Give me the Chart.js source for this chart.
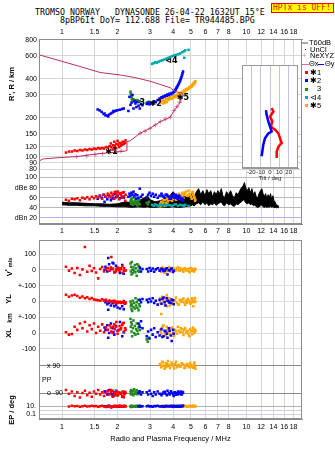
<!DOCTYPE html>
<html>
<head>
<meta charset="utf-8">
<script src="https://cdn.jsdelivr.net/npm/chart.js@4.4.1/dist/chart.umd.min.js"></script>
<style>
  body { margin: 0; background: #fff; }
  #page { position: relative; width: 335px; height: 451px; overflow: hidden; background: #fff;
          font-family: "Liberation Sans", Arial, sans-serif; color: #000; }
  canvas { position: absolute; }
  .txt { position: absolute; white-space: pre; line-height: 1; }
  .mono { font-family: "DejaVu Sans Mono", monospace; font-size: 8.3px; }
  .rot { transform: translate(-50%, -50%) rotate(-90deg); font-weight: bold; font-size: 7.5px; }
  .leg { font-size: 7.5px; line-height: 8px; }
  .sw { position: absolute; }
</style>
</head>
<body>
<div id="page">
  <div class="txt mono" style="left:35px;top:8px">TROMSO NORWAY   DYNASONDE 26-04-22 1632UT 15°E</div>
  <div class="txt mono" style="left:60px;top:16px">8pBP6It DoY= 112.688 File= TR944485.BPG</div>
  <div class="txt mono" style="left:271px;top:3px;width:63px;height:10px;box-sizing:border-box;border:1px solid #f00;background:#ff0;color:#f00;font-size:8px;line-height:8px;padding-left:1px;overflow:hidden">HPTx is OFF!</div>

  <canvas id="cTop" width="335" height="240" style="left:0;top:0"></canvas>
  <canvas id="cTilt" width="65" height="122" style="left:236px;top:60px"></canvas>
  <canvas id="cLow" width="335" height="223" style="left:0;top:228px"></canvas>

  <div class="txt rot" style="left:12px;top:84px">R', R / km</div>
  <div class="txt rot" style="left:9px;top:267px">V<sup style="font-size:5px">*</sup> <span style="font-size:5.5px">m/s</span></div>
  <div class="txt rot" style="left:9px;top:299px">YL</div>
  <div class="txt rot" style="left:10px;top:318px;font-size:6.5px">km</div>
  <div class="txt rot" style="left:9px;top:333px">XL</div>
  <div class="txt rot" style="left:12px;top:410px">EP / deg</div>
  <div class="txt" style="left:42px;top:376px;font-size:7px">PP</div>

  <!-- leyenda -->
  <div class="sw" style="left:302px;top:42px;width:6px;height:2px;background:#aaa"></div>
  <div class="txt leg" style="left:309px;top:39px">T60dB</div>
  <div class="sw" style="left:305px;top:49px;width:1px;height:1px;background:#000"></div>
  <div class="txt leg" style="left:310px;top:45.5px">UnCl</div>
  <div class="txt leg" style="left:302px;top:52px;color:#e0709a">+</div>
  <div class="txt leg" style="left:310px;top:52px">NeXYZ</div>
  <div class="sw" style="left:302px;top:64px;width:7px;height:1px;background:#e0709a"></div>
  <div class="txt leg" style="left:309px;top:60px">Θx</div>
  <div class="sw" style="left:318px;top:64px;width:6px;height:1px;background:#0000ff"></div>
  <div class="txt leg" style="left:325px;top:60px">Θy</div>
  <div class="sw" style="left:305px;top:71px;width:3px;height:3px;background:#ff0000"></div>
  <div class="txt leg" style="left:310px;top:68.5px">✱1</div>
  <div class="sw" style="left:305px;top:79px;width:3px;height:3px;background:#0000ff"></div>
  <div class="txt leg" style="left:310px;top:76.5px">✱2</div>
  <div class="sw" style="left:305px;top:87.5px;width:3px;height:3px;background:#228b22"></div>
  <div class="txt leg" style="left:317px;top:85px">3</div>
  <div class="sw" style="left:305px;top:96px;width:3px;height:3px;background:#00a8a8"></div>
  <div class="txt leg" style="left:310px;top:93.5px">⊲4</div>
  <div class="sw" style="left:305px;top:104px;width:3px;height:3px;background:#ffa500"></div>
  <div class="txt leg" style="left:310px;top:101.5px">✱5</div>
</div>

<script>
// --- colores ---
const RED = '#ff0000', BLUE = '#0000ff', GREEN = '#228b22', TEAL = '#00a8a8', ORANGE = '#ffa500';

// --- ejes ---
const FREQ_TICKS = [1, 1.5, 2, 3, 4, 5, 6, 7, 8, 10, 12, 14, 16, 18];
const FREQ_LABELS = ['1', '1.5', '2', '3', '4', '5', '6', '7', '8', '10', '12', '14', '16', '18'];
const R_TICKS = [80, 90, 100, 120, 150, 200, 300, 400, 600, 800];
const DB_TICKS = [20, 40, 60, 80, 100];
const DB_LABELS = ['dBn 20', '40', '60', 'dBe 80', '100'];
const TILT_TICKS = [-20, -10, 0, 10, 20];

// --- perfil NeXYZ (MHz, km) ---
const fProfile = [0.75, 0.79, 1.0, 1.2, 1.54, 1.98, 2.2, 2.25, 2.25, 2.34, 2.65, 3.0, 3.41, 3.86, 4.02, 4.28, 4.47, 4.55, 4.47, 4.11, 3.86, 3.4, 3.0, 2.5, 2.07, 1.61, 1.25, 1.0, 0.75];
const hProfile = [93, 96.5, 99, 100.5, 105.5, 109, 111, 112, 131, 133, 152, 166, 187, 202, 224, 252, 284, 298, 310, 319, 341, 362, 383, 408, 428, 447, 497, 545, 612];
const fMarks = [1.2, 1.36, 1.51, 1.66, 1.82, 1.97, 2.09, 2.65, 2.82, 3.0, 3.2, 3.41, 3.63, 3.86, 4.05, 4.2, 4.35];
const hMarks = [100.5, 102, 104, 106, 108, 110, 111, 152, 158, 166, 176, 187, 196, 202, 228, 244, 264];

// --- eco 1 (rojo) ---
const fRed = [1.05, 1.09, 1.13, 1.17, 1.21, 1.25, 1.29, 1.33, 1.37, 1.41, 1.45, 1.49, 1.53, 1.57, 1.61, 1.65, 1.69, 1.73, 1.77, 1.81, 1.85, 1.89, 1.93, 1.97, 2.01, 2.05, 2.09, 2.13, 2.17, 2.21, 1.84, 1.92, 2.0, 2.08, 2.16, 1.88, 1.96, 2.04, 2.12, 2.2];
const hRed = [108, 110, 110, 112, 111, 113, 112, 114, 113, 115, 114, 116, 115, 117, 116, 117, 116, 119, 118, 121, 119, 123, 122, 126, 124, 128, 127, 131, 130, 134, 127, 131, 133, 122, 126, 114, 117, 119, 124, 128];
const dbRed = [56, 54, 58, 57, 59, 55, 60, 58, 61, 57, 62, 59, 63, 60, 64, 58, 66, 62, 68, 64, 70, 66, 71, 67, 72, 68, 65, 70, 63, 66, 60, 58, 62, 69, 71, 65, 72, 57, 60, 54];
const vRed = [19, -5, 8, -20, 12, -33, 3, 144, -12, 25, -8, 10, -17, -54, 5, 18, -10, 4, 12, -6, 81, 8, -15, 3, 15, -8, 6, -20, 10, -4, 14, -12, 2, 9, -6, 4, -10, 6, 22, -2];
const ylRed = [42, 30, 38, 42, 35, 24, 31, 20, 26, 15, 22, 12, 10, 8, 4, 14, 4, 10, 0, 6, -4, 2, -6, 0, -8, -2, -10, -4, -12, -6, -2, 4, -10, -6, 2, 0, -12, -4, -8, -14];
const xlRed = [5, -10, -6, 40, 20, 60, 30, 70, 10, 50, 25, 60, 0, 40, 15, 55, 5, 35, 20, 50, 10, 40, 25, 70, 15, 45, 30, 60, 10, 20, 35, 55, -5, 25, 65, 0, 40, 20, 50, 30];
const ppRed = [-70, -95, -80, -110, -85, -120, -90, -75, -105, -88, -115, -80, -95, -70, -100, -85, -110, -90, -75, -100, -85, -115, -90, -78, -105, -88, -95, -80, -100, -92, -70, -108, -84, -96, -118, -76, -102, -88, -112, -82];
const epRed = [null, 8, 12, 9, 11, 7, 10, 13, 8, 10, 12, 9, 11, 7, 10, 13, 8, 6, 11, 9, 5, 10, 8, 12, 9, 11, 7, 10, 13, 8, 9, 11, 7, 12, 10, 8, 10, 12, 9, 11];

// --- eco 2 (azul) ---
const fBlue = [1.56, 1.6, 1.64, 1.68, 1.72, 1.76, 1.8, 1.84, 1.88, 1.92, 1.96, 2.0, 2.06, 2.12,
  1.7, 1.78, 1.9, 2.16,
  2.29, 2.32, 2.35, 2.38, 2.41, 2.44, 2.47, 2.5, 2.53, 2.56, 2.6, 2.64, 2.68, 2.73,
  2.88, 2.93, 2.98, 3.04, 3.1, 3.16, 3.22, 3.3, 3.38, 3.46, 3.55, 3.64, 3.73, 3.83, 3.93, 4.03, 4.1, 4.17, 4.23, 4.29, 4.35, 4.41, 4.47, 4.53,
  3.5, 3.6, 3.7, 3.8, 3.9, 4.0, 4.07, 4.14, 4.2, 4.26, 4.32, 4.38, 4.44, 4.5];
const hBlue = [232, 228, 222, 214, 209, 208, 212, 216, 220, 224, 227, 229, 231, 234,
  216, 205, 226, 236,
  226, 290, 252, 262, 300, 236, 270, 258, 242, 265, 248, 236, 255, 250,
  256, 262, 254, 262, 258, 268, 264, 274, 282, 288, 293, 298, 303, 307, 311, 318, 328, 340, 352, 366, 382, 402, 425, 455,
  286, 292, 296, 300, 304, 310, 318, 330, 344, 358, 372, 390, 412, 440];
const dbBlue = [58, 64, 60, 66, 62, 57, 63, 55, 60, 67, 61, 64, 59, 62,
  52, 66, 58, 60,
  62, 68, 64, 70, 66, 72, 63, 67, 58, 65, 60, 78, 62, 66,
  60, 66, 70, 64, 68, 62, 66, 60, 64, 68, 62, 66, 64, 58, 62, 66, 60, 64, 58, 62, 60, 56, 58, 54,
  64, 60, 66, 62, 58, 64, 60, 66, 62, 58, 64, 60, 56, 58];
const vBlue = [null, null, null, null, 20, -10, 35, 5, 45, -15, 25, 10, -20, 30,
  0, 75, 40, -25,
  null, null, null, null, null, null, null, null, null, null, null, 15, -10, 5,
  5, -10, 12, -5, 8, -12, 3, 10, -5, 6, -8, 4, -30, -3, 8, -6, null, null, null, null, null, null, null, null,
  4, -6, 10, -2, 6, -14, null, null, null, null, null, null, null, null];
const ylBlue = [null, null, null, null, -5, -18, -8, -25, -12, -30, -20, -38, -45, -30,
  5, -52, 0, -50,
  null, null, null, null, null, null, null, null, null, null, null, 10, -5, 15,
  10, -5, 15, 0, 20, -10, 5, -20, 10, -15, 25, -25, 5, -8, 12, -18, null, null, null, null, null, null, null, null,
  15, -5, 20, 0, -10, 8, null, null, null, null, null, null, null, null];
const xlBlue = [null, null, null, null, 20, 50, 0, 60, 30, -10, 45, 15, 70, -20,
  35, -30, 5, 5,
  null, null, null, null, null, null, null, null, null, null, 60, 40, 75, 30,
  -20, 10, -35, 20, -10, 30, -25, 5, -15, 25, -20, 10, -30, 15, -50, -5, null, null, null, null, null, null, null, null,
  -25, 15, -5, 30, -15, 20, null, null, null, null, null, null, null, null];
const ppBlue = [null, null, null, null, -80, -100, -70, -95, -110, -85, -75, -105, -90, -115,
  -80, -95, -100, -85,
  null, null, null, null, null, null, null, null, null, null, -90, -80, -100, -85,
  -85, -100, -75, -95, -110, -85, -100, -80, -95, -105, -85, -95, -75, -100, -90, -110, -85, -95, -100, -88, -92, -80, -97, -86,
  -95, -82, -104, -90, -78, -98, -86, -102, -92, -80, -96, -88, -100, -84];
const epBlue = [null, null, null, null, 10, 7, 12, 6, 9, 11, 8, 10, 7, 9,
  9, 11, 8, 10,
  null, null, null, null, null, null, null, null, null, null, 9, 12, 8, 10,
  9, 12, 8, 10, 7, 11, 9, 12, 8, 10, 7, 11, 9, 10, 8, 12, 9, 7, 10, 11, 8, 9, 10, 12,
  10, 8, 11, 9, 12, 7, 10, 9, 11, 8, 10, 12, 9, 11];

// --- eco 3 (verde) ---
const fGreen = [2.35, 2.36, 2.37, 2.38, 2.39, 2.4, 2.42, 2.44, 2.46, 2.48, 2.5, 2.52, 2.54, 2.56, 2.58, 2.6, 2.62, 2.64, 2.88, 2.92, 2.96];
const hGreen = [318, 308, 298, 290, 282, 274, 270, 278, 268, 272, 266, 270, 268, 274, 266, 269, 265, 268, 262, 258, 266];
const dbGreen = [52, 56, 48, 58, 50, 54, 46, 60, 52, 48, 55, 50, 58, 45, 53, 49, 56, 47, 50, 47, 52];
const vGreen = [40, -10, 20, -30, 50, 0, -20, 15, -5, 30, -15, 10, -38, 35, -8, 25, -12, 5, null, null, null];
const ylGreen = [0, -30, -15, -50, -20, -60, 5, -35, -10, -45, 20, -25, -5, -40, 10, -55, -18, -30, null, null, null];
const xlGreen = [90, 40, 70, 10, 55, -20, 30, 80, 0, 45, -10, 25, 60, 15, -5, 35, 50, 20, -40, -55, -30];
const ppGreen = [-80, -95, -70, -100, -85, -90, -75, -105, -65, -95, -80, -88, -72, -98, -84, -92, -78, -90, null, null, null];
const epGreen = [8, 11, 6, 9, 12, 7, 10, 8, 11, 9, 7, 10, 12, 8, 9, 11, 7, 10, null, null, null];

// --- eco 4 (turquesa) ---
const fTeal = [3.08, 3.14, 3.2, 3.27, 3.34, 3.42, 3.5, 3.58, 3.66, 3.75, 3.84, 3.94, 4.04, 4.14, 4.25, 4.36, 4.48, 4.58, 4.66, 4.6, 4.85];
const hTeal = [521, 528, 536, 532, 542, 550, 556, 562, 570, 578, 586, 596, 604, 610, 618, 626, 640, 652, 662, 580, 668];
const dbTeal = [46, 44, 47, 45, 44, 46, 45, 47, 44, 46, 45, 44, 46, 47, 44, 46, 45, 44, 46, 45, 44];

// --- eco 5 (naranja) ---
const fOrange = [3.4, 3.45, 3.5, 3.55, 3.6, 3.65, 3.7, 3.75, 3.8, 3.85, 3.92, 4.0, 4.1, 4.2, 4.3, 4.4, 4.5, 4.6, 4.7, 4.8, 4.9, 5.0, 5.08, 5.15, 5.22, 5.28,
  3.42, 3.52, 3.62, 3.72, 3.82, 3.95, 4.05, 4.15, 4.25, 4.35, 4.45, 4.55, 4.65, 4.75, 4.85, 4.95, 5.05, 5.12, 5.2, 5.26];
const hOrange = [268, 262, 275, 258, 270, 280, 265, 285, 275, 288, 283, 292, 296, 302, 306, 312, 318, 325, 332, 338, 345, 352, 360, 368, 376, 383,
  276, 270, 262, 278, 282, 280, 288, 290, 298, 302, 308, 314, 320, 328, 334, 340, 348, 356, 364, 372];
const dbOrange = [48, 52, 46, 55, 44, 50, 58, 53, 60, 56, 62, 58, 65, 60, 68, 63, 70, 66, 72, 64, 68, 62, 70, 66, 60, 56,
  44, 50, 56, 48, 58, 54, 62, 56, 64, 58, 66, 60, 70, 64, 74, 66, 58, 72, 62, 54];
const vOrange = [8, -12, 15, -5, -20, 10, -8, 5, 18, -10, 3, 12, -6, 8, -3, 10, 0, 6, -4, 3, -15, 12, -8, 5, -2, 4,
  -4, 10, -16, 2, 12, -8, 6, -2, 14, -6, 4, -12, 8, 0, -6, 10, -4, 2, -10, 6];
const ylOrange = [20, -80, 30, 0, -20, 25, 40, -5, 10, -25, 5, -15, 8, -8, -20, 0, 12, -6, 5, 15, -2, -10, 20, -30, 6, -4,
  -10, 15, 5, -30, 20, -12, 0, 25, -18, 10, -2, 18, -22, -8, 6, -15, 10, -5, 0, 22];
const xlOrange = [20, -5, 35, 50, 10, -15, 40, 5, 25, -10, 30, 0, 20, -5, 15, 30, 5, 20, 0, 15, -20, 10, -8, 25, 5, 12,
  10, 45, -10, 20, 0, 35, -20, 10, 40, 5, 25, -12, 30, 10, -5, 25, 15, 35, 0, 20];
const ppOrange = [100, 80, 115, 90, 70, 105, 85, 120, 95, 75, 110, 90, 100, 80, 95, 85, 100, 75, 90, 95, 80, 92, 85, 88, 110, 70,
  95, 112, 78, 102, 88, 98, 72, 115, 92, 84, 105, 96, 78, 100, 86, 108, 90, 76, 98, 84];
const epOrange = [null, 8, 11, 6, 10, 13, 7, 9, 12, 8, 10, 6, 11, 14, 9, 8, 10, 12, 9, 7, 11, 10, 8, 12, 9, 10,
  9, 12, 7, 10, 11, 8, 13, 9, 10, 7, 12, 8, 11, 9, 10, 13, 8, 11, 9, 12];

// --- ruido T60dB (banda negra) ---
const fNoise = [1.0, 1.1, 1.2, 1.35, 1.5, 1.65, 1.8, 2.0, 2.2, 2.4, 2.6, 2.8, 2.9, 3.0, 3.2, 3.4, 3.6, 3.8, 4.0, 4.2,
  4.4, 4.6, 4.8, 5.0, 5.1, 5.2, 5.35, 5.5, 5.65, 5.8, 5.95, 6.1, 6.25, 6.4, 6.55, 6.7, 6.85, 7.0, 7.15, 7.3,
  7.45, 7.6, 7.8, 8.0, 8.2, 8.4, 8.6, 8.8, 9.0, 9.2, 9.4, 9.6, 9.75, 9.9, 10.1, 10.3, 10.5, 10.7, 10.9, 11.1,
  11.3, 11.5, 11.7, 11.9, 12.1, 12.3, 12.5, 12.7, 12.9, 13.1, 13.3, 13.5, 13.7, 13.9, 14.1, 14.3, 14.5, 14.7, 15.0];
const dbNoiseHi = [51, 50, 50, 49, 48, 48, 47, 48, 52, 50, 54, 60, 64, 56, 52, 54, 58, 62, 72, 62,
  58, 64, 60, 66, 72, 62, 72, 78, 66, 74, 64, 76, 68, 74, 62, 72, 66, 74, 68, 78,
  64, 60, 72, 66, 74, 64, 60, 70, 66, 74, 80, 84, 90, 80, 74, 80, 70, 78, 66, 72,
  62, 60, 68, 74, 78, 68, 62, 68, 58, 66, 60, 68, 56, 64, 54, 52, 46, 45, 43];
const dbNoiseLo = [46, 45, 45, 44, 44, 43, 43, 42, 42, 41, 42, 41, 42, 41, 41, 42, 41, 41, 42, 41,
  41, 42, 43, 44, 46, 44, 48, 50, 46, 52, 46, 50, 44, 48, 46, 50, 45, 48, 50, 52,
  46, 44, 50, 46, 48, 44, 43, 48, 46, 50, 52, 56, 54, 50, 48, 50, 46, 48, 44, 46,
  42, 41, 42, 44, 46, 42, 41, 42, 41, 42, 41, 43, 41, 42, 41, 41, 40, 41, 40];

// --- inclinación (recuadro) ---
const tiltBlueDeg = [-4.3, -3.6, -1.8, 0, 1.8, -1.8, -5.4, -7.2, -8.2, -9];
const tiltBlueH = [230, 211, 188, 171, 157, 152, 139, 124, 110, 101];
const tiltRedDeg = [1.8, 3.6, 0, 2.5, 1, 5.4, 9, 10.8, 12.6, 9, 7.2, 7.2];
const tiltRedH = [238, 224, 205, 188, 171, 162, 152, 139, 128, 120, 110, 98];

// etiquetas de ecos: texto, MHz, km
const clusterTags = [['✱1', 1.85, 110], ['3', 2.72, 260], ['✱2', 3.22, 256], ['⊲4', 3.92, 545], ['✱5', 4.52, 287]];

// --- UTILIDADES ---
Chart.defaults.font.family = '"Liberation Sans", Arial, sans-serif';
Chart.defaults.font.size = 7;
Chart.defaults.color = '#000';

function pts(fs, vs) {
    const out = [];
    fs.forEach((f, i) => { if (vs[i] != null) out.push({ x: f, y: vs[i] }); });
    return out;
}

function dots(fs, vs, color, axis) {
    return { data: pts(fs, vs), yAxisID: axis, pointStyle: 'rect', pointRadius: 1.8,
             borderWidth: 0, backgroundColor: color, showLine: false };
}

function fixed(list) {
    return s => { s.ticks = list.map(v => ({ value: v })); };
}

function freqAxis(pos, extra) {
    return Object.assign({
        type: 'logarithmic', position: pos, min: 0.75, max: 20,
        afterBuildTicks: fixed(FREQ_TICKS),
        afterFit: s => { s.height = 12; },
        ticks: { autoSkip: false, maxRotation: 0, padding: 3, callback: v => FREQ_LABELS[FREQ_TICKS.indexOf(v)] },
        grid: { color: '#d6d6d6', drawTicks: false },
        border: { color: '#8c8c8c' }
    }, extra);
}

function leftAxis(stack, weight, extra) {
    return Object.assign({
        position: 'left', stack: stack, stackWeight: weight,
        afterFit: s => { s.width = 39; },
        grid: { color: '#dcdcdc', drawTicks: false },
        border: { color: '#8c8c8c' }
    }, extra);
}

const framePlugin = {
    id: 'frame',
    beforeDraw(chart, args, opts) {
        if (!opts.fill) return;
        const a = chart.chartArea;
        chart.ctx.save();
        chart.ctx.fillStyle = opts.fill;
        chart.ctx.fillRect(a.left, a.top, a.right - a.left, a.bottom - a.top);
        chart.ctx.restore();
    },
    afterDraw(chart, args, opts) {
        const { ctx, chartArea: a } = chart;
        ctx.save();
        ctx.strokeStyle = opts.color || '#8c8c8c';
        ctx.lineWidth = 1;
        ctx.strokeRect(Math.round(a.left) + 0.5, Math.round(a.top) + 0.5,
                       Math.round(a.right - a.left) - 1, Math.round(a.bottom - a.top) - 1);
        ctx.restore();
    }
};

const tagPlugin = {
    id: 'tags',
    afterDatasetsDraw(chart) {
        const { ctx } = chart;
        const sx = chart.scales.x, sy = chart.scales.yR;
        ctx.save();
        ctx.font = 'bold 8px "DejaVu Sans", sans-serif';
        ctx.fillStyle = '#000';
        ctx.textAlign = 'center';
        ctx.textBaseline = 'middle';
        clusterTags.forEach(([t, f, h]) => ctx.fillText(t, sx.getPixelForValue(f), sy.getPixelForValue(h)));
        ctx.restore();
    }
};

const baseOpts = {
    responsive: false, animation: false, devicePixelRatio: 1,
    events: []
};

// --- PANEL SUPERIOR: altura + amplitud ---
const topSets = [
    { data: pts(fProfile, hProfile), yAxisID: 'yR', showLine: true, pointRadius: 0, borderColor: '#b8305a', borderWidth: 1 },
    { data: pts(fMarks, hMarks), yAxisID: 'yR', pointStyle: 'cross', pointRadius: 2.2, borderColor: '#e0709a', borderWidth: 1, showLine: false },
    dots(fRed, hRed, RED, 'yR'),
    dots(fBlue, hBlue, BLUE, 'yR'),
    dots(fGreen, hGreen, GREEN, 'yR'),
    dots(fTeal, hTeal, TEAL, 'yR'),
    dots(fOrange, hOrange, ORANGE, 'yR'),
    dots(fRed, dbRed, RED, 'yDb'),
    dots(fBlue, dbBlue, BLUE, 'yDb'),
    dots(fGreen, dbGreen, GREEN, 'yDb'),
    dots(fTeal, dbTeal, TEAL, 'yDb'),
    dots(fOrange, dbOrange, ORANGE, 'yDb'),
    { data: pts(fNoise, dbNoiseLo), yAxisID: 'yDb', showLine: true, pointRadius: 0, borderColor: '#000', borderWidth: 1, fill: false, order: 10 },
    { data: pts(fNoise, dbNoiseHi), yAxisID: 'yDb', showLine: true, pointRadius: 0, borderColor: '#000', borderWidth: 1, fill: '-1', backgroundColor: '#000', order: 10 }
];

new Chart(document.getElementById('cTop'), {
    type: 'scatter',
    data: { datasets: topSets },
    options: Object.assign({}, baseOpts, {
        layout: { padding: { top: 27, left: 0, right: 33, bottom: 4 } },
        plugins: { legend: { display: false }, tooltip: { enabled: false }, frame: {} },
        scales: {
            x: freqAxis('top'),
            x2: freqAxis('bottom', { grid: { display: false, drawTicks: false } }),
            yDb: leftAxis('top', 52, {
                type: 'linear', min: 8, max: 111,
                afterBuildTicks: fixed(DB_TICKS),
                ticks: { autoSkip: false, padding: 2, callback: v => DB_LABELS[DB_TICKS.indexOf(v)] },
                grid: { drawTicks: false, color: c => (c.tick && c.tick.value === 20) ? '#b4b4e6' : '#b8b8b8' }
            }),
            yR: leftAxis('top', 133, {
                type: 'logarithmic', min: 76.5, max: 810,
                afterBuildTicks: fixed(R_TICKS),
                ticks: { autoSkip: false, padding: 2, callback: v => String(v) },
                grid: { color: '#d6d6d6', drawTicks: false }
            })
        }
    }),
    plugins: [framePlugin, tagPlugin]
});

// --- RECUADRO DE INCLINACIÓN ---
new Chart(document.getElementById('cTilt'), {
    type: 'scatter',
    data: {
        datasets: [
            { data: pts(tiltBlueDeg, tiltBlueH), showLine: true, pointRadius: 0, borderColor: BLUE, borderWidth: 2.5 },
            { data: pts(tiltRedDeg, tiltRedH), showLine: true, pointRadius: 0, borderColor: RED, borderWidth: 2.5 }
        ]
    },
    options: Object.assign({}, baseOpts, {
        layout: { padding: { top: 5, left: 6, right: 3, bottom: 0 } },
        plugins: { legend: { display: false }, tooltip: { enabled: false }, frame: { fill: '#fff', color: '#9a9a9a' } },
        scales: {
            x: {
                type: 'linear', min: -30, max: 30,
                afterBuildTicks: fixed(TILT_TICKS),
                afterFit: s => { s.height = 14; },
                ticks: { autoSkip: false, maxRotation: 0, padding: 1, font: { size: 6 }, color: '#222' },
                grid: { color: '#c4c4e4', drawTicks: false },
                border: { color: '#9a9a9a' },
                title: { display: true, text: 'Tilt / deg', font: { size: 6 }, padding: { top: 0, bottom: 0 }, color: '#222' }
            },
            y: { type: 'logarithmic', min: 82, max: 513, display: false }
        }
    }),
    plugins: [framePlugin]
});

// --- PANEL INFERIOR: V*, YL, XL, PP, EP ---
const series = [
    [fRed, RED, vRed, ylRed, xlRed, ppRed, epRed],
    [fBlue, BLUE, vBlue, ylBlue, xlBlue, ppBlue, epBlue],
    [fGreen, GREEN, vGreen, ylGreen, xlGreen, ppGreen, epGreen],
    [fOrange, ORANGE, vOrange, ylOrange, xlOrange, ppOrange, epOrange]
];
const lowAxes = ['yV', 'yYL', 'yXL', 'yPP', 'yEP'];
const lowSets = [];
series.forEach(s => {
    lowAxes.forEach((id, k) => lowSets.push(dots(s[0], s[2 + k], s[1], id)));
});

new Chart(document.getElementById('cLow'), {
    type: 'scatter',
    data: { datasets: lowSets },
    options: Object.assign({}, baseOpts, {
        layout: { padding: { top: 10, left: 0, right: 33, bottom: 4 } },
        plugins: { legend: { display: false }, tooltip: { enabled: false }, frame: {} },
        scales: {
            x: freqAxis('bottom', {
                afterFit: s => { s.height = 28; },
                ticks: { autoSkip: false, maxRotation: 0, padding: 4, callback: v => FREQ_LABELS[FREQ_TICKS.indexOf(v)] },
                title: { display: true, text: 'Radio and Plasma Frequency / MHz', font: { size: 7.5 }, padding: { top: 0, bottom: 4 } }
            }),
            yEP: leftAxis('low', 19, {
                type: 'logarithmic', min: 0.0074, max: 279,
                afterBuildTicks: fixed([0.1, 1, 10]),
                ticks: { autoSkip: false, padding: 3, callback: v => (v === 10 ? '10.' : v === 0.1 ? '0.1' : '') },
                grid: { drawTicks: false, color: c => (c.tick && c.tick.value === 10) ? '#b0b0b0' : '#cfcfec' }
            }),
            yPP: leftAxis('low', 52, {
                type: 'linear', min: -137.4, max: 200.5,
                afterBuildTicks: fixed([-90, 90]),
                ticks: { autoSkip: false, mirror: true, padding: 8, callback: v => (v === 90 ? 'x 90' : 'o -90') },
                grid: { drawTicks: false, color: '#8a8a8a' }
            }),
            yXL: leftAxis('low', 32, {
                type: 'linear', min: -100, max: 100,
                afterBuildTicks: fixed([-100, 0, 100]),
                ticks: { autoSkip: false, padding: 3, callback: v => (v === 0 ? '0' : v === -100 ? '-100' : '') }
            }),
            yYL: leftAxis('low', 32, {
                type: 'linear', min: -100, max: 100,
                afterBuildTicks: fixed([-100, 0, 100]),
                ticks: { autoSkip: false, padding: 3, callback: v => (v === 0 ? '0' : v === -100 ? '+-100' : '') }
            }),
            yV: leftAxis('low', 46, {
                type: 'linear', min: -100, max: 187.5,
                afterBuildTicks: fixed([-100, 0, 100]),
                ticks: { autoSkip: false, padding: 3, callback: v => (v === 0 ? '0' : v === 100 ? '100' : '+-100') }
            })
        }
    }),
    plugins: [framePlugin]
});
</script>
</body>
</html>
